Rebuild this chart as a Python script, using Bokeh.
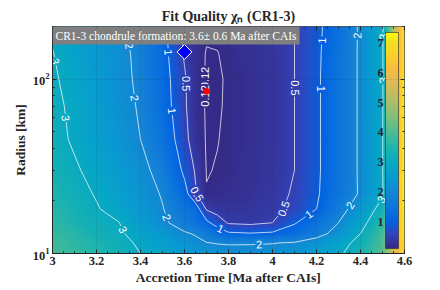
import numpy as np
import contourpy
from bokeh.plotting import figure
from bokeh.models import (ColumnDataSource, ColorBar, LinearColorMapper, Label, Whisker,
                          TeeHead, FixedTicker, Range1d, LogTickFormatter, LinearAxis, LogAxis)
from bokeh.core.properties import value
from bokeh.embed import file_html
from bokeh.resources import INLINE

# ---------------- data ----------------
accretion_time = [3.0, 3.1, 3.2, 3.3, 3.4, 3.5, 3.6, 3.65, 3.7, 3.75, 3.8, 3.9,
                  4.0, 4.1, 4.2, 4.3, 4.4, 4.5, 4.6]
radius_km = [10, 11.5, 13, 15, 18, 22, 30, 45, 70, 100, 140, 200]

chi_r010 = [3.95, 3.75, 3.50, 3.25, 3.00, 2.75, 2.50, 2.40, 2.30, 2.25, 2.22, 2.20, 2.22, 2.30, 2.55, 2.90, 3.35, 4.10, 6.90]
chi_r011 = [3.85, 3.65, 3.42, 3.20, 2.90, 2.60, 2.30, 2.15, 2.02, 1.97, 1.95, 1.96, 1.98, 2.05, 2.35, 2.75, 3.20, 4.00, 7.00]
chi_r013 = [3.75, 3.55, 3.30, 3.10, 2.75, 2.40, 2.07, 1.95, 1.65, 1.35, 1.08, 1.03, 1.08, 1.30, 1.70, 2.30, 3.00, 3.90, 7.10]
chi_r015 = [3.65, 3.42, 3.15, 3.02, 2.55, 2.12, 1.70, 1.50, 1.12, 0.75, 0.45, 0.40, 0.50, 0.95, 1.40, 2.00, 2.75, 3.60, 7.20]
chi_r018 = [3.55, 3.32, 3.05, 2.75, 2.40, 2.03, 1.50, 1.30, 0.45, 0.30, 0.28, 0.30, 0.40, 0.60, 1.00, 1.70, 2.40, 3.30, 7.30]
chi_r022 = [3.45, 3.22, 2.95, 2.65, 2.30, 1.95, 1.20, 0.55, 0.13, 0.17, 0.20, 0.25, 0.35, 0.55, 0.92, 1.50, 2.08, 2.90, 7.35]
chi_r030 = [3.30, 3.08, 2.80, 2.50, 2.20, 1.75, 0.88, 0.45, 0.11, 0.13, 0.16, 0.22, 0.32, 0.50, 0.90, 1.45, 2.10, 2.95, 7.35]
chi_r045 = [3.20, 2.92, 2.62, 2.32, 2.00, 1.45, 0.65, 0.24, 0.105, 0.115, 0.15, 0.20, 0.30, 0.50, 0.90, 1.45, 2.10, 2.95, 7.30]
chi_r070 = [3.15, 2.87, 2.55, 2.25, 1.93, 1.30, 0.56, 0.22, 0.10, 0.105, 0.14, 0.20, 0.30, 0.50, 0.90, 1.45, 2.10, 2.93, 7.30]
chi_r100 = [3.08, 2.80, 2.50, 2.20, 1.88, 1.25, 0.55, 0.22, 0.10, 0.10, 0.14, 0.20, 0.30, 0.50, 0.90, 1.45, 2.10, 2.92, 7.20]
chi_r140 = [3.02, 2.70, 2.45, 2.18, 1.85, 1.20, 0.45, 0.20, 0.11, 0.115, 0.16, 0.22, 0.30, 0.50, 0.88, 1.45, 2.10, 2.92, 7.10]
chi_r200 = [2.90, 2.60, 2.35, 2.12, 1.75, 1.15, 0.42, 0.25, 0.15, 0.16, 0.20, 0.25, 0.32, 0.50, 0.85, 1.40, 2.10, 2.90, 7.00]

contour_levels = [0.12, 0.5, 1, 2, 3]

# contour labels: (level, approximate time, approximate radius)
label_spots = [
    (3, 3.02, 127), (3, 3.07, 60), (3, 3.33, 13.9), (3, 4.5, 175), (3, 4.5, 98), (3, 4.49, 20.6),
    (2, 3.35, 155), (2, 3.38, 78), (2, 3.52, 16.1), (2, 3.94, 11.0), (2, 4.355, 18.8), (2, 4.39, 177),
    (1, 3.52, 142), (1, 3.56, 66), (1, 3.76, 13.6), (1, 4.17, 16.5), (1, 4.23, 166), (1, 4.23, 88),
    (0.5, 3.61, 94), (0.5, 3.66, 22), (0.5, 4.07, 17.7), (0.5, 4.10, 89),
    (0.12, 3.72, 102), (0.12, 3.70, 80),
]

formation_time = 3.6
formation_err = 0.6
formation_radius = 143
best_time = 3.70
best_radius = 85
banner_text = "CR1-3 chondrule formation: 3.6\u00b1 0.6 Ma after CAIs"
title_text = "Fit Quality \u03c7\u2099 (CR1-3)"

xticks = [3.0, 3.2, 3.4, 3.6, 3.8, 4.0, 4.2, 4.4, 4.6]
xtick_labels = ["3", "3.2", "3.4", "3.6", "3.8", "4", "4.2", "4.4", "4.6"]
yticks = [10, 100]
cbar_ticks = [1, 2, 3, 4, 5, 6, 7]

# ---------------- colours ----------------
PARULA = [
    (0.2081, 0.1663, 0.5292), (0.1959, 0.2645, 0.7279), (0.0117, 0.3875, 0.8820),
    (0.0498, 0.4586, 0.8641), (0.0793, 0.5200, 0.8312), (0.0343, 0.5966, 0.8199),
    (0.0228, 0.6535, 0.7768), (0.0843, 0.6928, 0.7062), (0.2178, 0.7250, 0.6193),
    (0.3953, 0.7459, 0.5244), (0.5709, 0.7485, 0.4494), (0.7184, 0.7411, 0.3905),
    (0.8507, 0.7299, 0.3360), (0.9739, 0.7314, 0.2666), (0.9880, 0.8066, 0.1794),
    (0.9626, 0.8705, 0.1309), (0.9763, 0.9831, 0.0538)]
PPOS = [i / 63 for i in range(0, 64, 4)] + [1.0]


def parula(f):
    f = min(max(f, 0.0), 1.0)
    arr = np.array(PARULA)
    r, g, b = (np.interp(f, PPOS, arr[:, k]) for k in range(3))
    return "#%02x%02x%02x" % (int(round(r * 255)), int(round(g * 255)), int(round(b * 255)))


Z = np.array([chi_r010, chi_r011, chi_r013, chi_r015, chi_r018, chi_r022,
              chi_r030, chi_r045, chi_r070, chi_r100, chi_r140, chi_r200])
T = np.array(accretion_time)
LR = np.log10(np.array(radius_km, dtype=float))
X2, LY2 = np.meshgrid(T, LR)
cmin, cmax = float(Z.min()), float(Z.max())

# frame geometry (page pixels)
FL, FT, FW, FH = 52, 26, 352, 227
W, H = 440, 290
X0, X1 = 3.0, 4.6
R0, R1 = 10.0, 200.0
PX_T = FW / (X1 - X0)
PX_DEC = FH / (np.log10(R1) - np.log10(R0))

FONT = "Liberation Serif"
DARK = "#262626"

p = figure(frame_width=FW, frame_height=FH, x_range=Range1d(X0, X1), y_range=Range1d(R0, R1),
           y_axis_type="log", output_backend="svg", toolbar_location=None,
           min_border_left=FL, min_border_right=W - FL - FW, min_border_top=FT,
           min_border_bottom=H - FT - FH,
           background_fill_color="white", border_fill_color="white")
p.outline_line_color = DARK
p.outline_line_width = 0.8
bottom_ax = p.below[0]
left_ax = p.left[0]

# smooth field (bilinear between the grid values, like interpolated shading)
NX, NY = FW, FH
tt = X0 + (np.arange(NX) + 0.5) / NX * (X1 - X0)
ll = np.log10(R0) + (np.arange(NY) + 0.5) / NY * (np.log10(R1) - np.log10(R0))
fi = np.interp(tt, T, np.arange(len(T)))
fj = np.interp(ll, LR, np.arange(len(LR)))
i0 = np.clip(np.floor(fi).astype(int), 0, len(T) - 2)
j0 = np.clip(np.floor(fj).astype(int), 0, len(LR) - 2)
wi = (fi - i0)[None, :]
wj = (fj - j0)[:, None]
J, I = j0[:, None], i0[None, :]
img = (Z[J, I] * (1 - wi) * (1 - wj) + Z[J, I + 1] * wi * (1 - wj)
       + Z[J + 1, I] * (1 - wi) * wj + Z[J + 1, I + 1] * wi * wj)

mapper = LinearColorMapper(palette=[parula(f) for f in np.linspace(0, 1, 256)], low=cmin, high=cmax)
p.image(image=[img], x=X0, y=R0, dw=X1 - X0, dh=R1 - R0, color_mapper=mapper)

# contour lines (computed in log-radius space)
gen = contourpy.contour_generator(X2, LY2, Z)
cxs, cys = [], []
for lev in contour_levels:
    for ln in gen.lines(lev):
        cxs.append(list(ln[:, 0]))
        cys.append(list(10 ** ln[:, 1]))
p.multi_line(xs=cxs, ys=cys, line_color="white", line_width=0.8, line_alpha=0.9)

# contour labels, snapped onto the contour lines
lx, ly, lt, la, lbg = [], [], [], [], []
for lev, t0, r0 in label_spots:
    px0 = (t0 - X0) * PX_T
    py0 = np.log10(r0) * PX_DEC
    best = None
    for ln in gen.lines(lev):
        sx = (ln[:, 0] - X0) * PX_T
        sy = ln[:, 1] * PX_DEC
        for i in range(len(ln) - 1):
            ax, ay, bx, by = sx[i], sy[i], sx[i + 1], sy[i + 1]
            dx, dy = bx - ax, by - ay
            L2 = dx * dx + dy * dy
            u = 0.0 if L2 == 0 else min(max(((px0 - ax) * dx + (py0 - ay) * dy) / L2, 0), 1)
            qx, qy = ax + u * dx, ay + u * dy
            d = (qx - px0) ** 2 + (qy - py0) ** 2
            if best is None or d < best[0]:
                best = (d, qx, qy, np.arctan2(dy, dx))
    if best is None:
        continue
    _, qx, qy, ang = best
    if ang > np.pi / 2:
        ang -= np.pi
    if ang < -np.pi / 2:
        ang += np.pi
    lx.append(X0 + qx / PX_T)
    ly.append(10 ** (qy / PX_DEC))
    lt.append("%g" % lev)
    la.append(ang)
    lbg.append(parula((lev - cmin) / (cmax - cmin)))
lsrc = ColumnDataSource(dict(x=lx, y=ly, text=lt, angle=la, bg=lbg))
p.text(x="x", y="y", text="text", angle="angle", source=lsrc, text_color="white",
       text_font=value("Liberation Sans"), text_font_size="11px", text_align="center",
       text_baseline="middle", background_fill_color="bg", padding=1)

# grid on top
p.xgrid.ticker = FixedTicker(ticks=xticks)
p.ygrid.ticker = FixedTicker(ticks=yticks)
for g in (p.xgrid, p.ygrid):
    g.grid_line_color = DARK
    g.grid_line_alpha = 0.15
    g.grid_line_width = 0.6
    g.level = "overlay"

# error bar and markers
esrc = ColumnDataSource(dict(r=[formation_radius], lo=[formation_time - formation_err],
                             hi=[formation_time + formation_err]))
p.add_layout(Whisker(source=esrc, base="r", lower="lo", upper="hi", dimension="width",
                     line_color="white", line_width=1.5,
                     lower_head=TeeHead(size=10, line_color="white", line_width=1.5),
                     upper_head=TeeHead(size=10, line_color="white", line_width=1.5)))
p.scatter(x=[formation_time], y=[formation_radius], marker="square", angle=np.pi / 4, size=10.5,
          fill_color="#0000ff", line_color="white", line_width=1)
p.scatter(x=[best_time], y=[best_radius], marker="circle", size=6, fill_color="#ff0000",
          line_color="#ff0000")

# banner
p.add_layout(Label(x=X0, y=R1, text=banner_text, text_align="left", text_baseline="top",
                   text_color="white", text_font=FONT, text_font_size="11.5px",
                   background_fill_color="#7f7f7f", background_fill_alpha=1.0, padding=3))

# axes
minor_x = [round(3.0 + 0.05 * k, 2) for k in range(33)]
minor_y = [20, 30, 40, 50, 60, 70, 80, 90, 200]
bottom_ax.ticker = FixedTicker(ticks=xticks, minor_ticks=minor_x)
bottom_ax.major_label_overrides = {t: s for t, s in zip(xticks, xtick_labels)}
left_ax.ticker = FixedTicker(ticks=yticks, minor_ticks=minor_y)
left_ax.formatter = LogTickFormatter()
bottom_ax.axis_label = "Accretion Time [Ma after CAIs]"
left_ax.axis_label = "Radius [km]"

# tick marks on the top and right edges (box on), labels hidden
top_ax = LinearAxis(ticker=FixedTicker(ticks=xticks, minor_ticks=minor_x))
right_ax = LogAxis(ticker=FixedTicker(ticks=yticks, minor_ticks=minor_y))
for ax in (top_ax, right_ax):
    ax.major_label_text_alpha = 0
    ax.major_label_text_font_size = "1px"
    ax.major_label_standoff = 0
    ax.axis_line_color = None
p.add_layout(top_ax, "above")
p.add_layout(right_ax, "right")

for ax in (bottom_ax, left_ax, top_ax, right_ax):
    ax.major_tick_line_color = DARK
    ax.minor_tick_line_color = DARK
    ax.major_tick_in = 4
    ax.major_tick_out = 0
    ax.minor_tick_in = 2
    ax.minor_tick_out = 0

for ax in (bottom_ax, left_ax):
    ax.axis_label_text_font = FONT
    ax.axis_label_text_font_style = "bold"
    ax.axis_label_text_font_size = "13.5px"
    ax.axis_label_text_color = DARK
    ax.major_label_text_font = FONT
    ax.major_label_text_font_style = "bold"
    ax.major_label_text_color = DARK
    ax.major_label_text_font_size = "12.5px"
    ax.axis_line_color = DARK
    ax.axis_label_standoff = 2
    ax.major_label_standoff = 3

# title
p.title.text = title_text
p.title.align = "center"
p.title.text_font = FONT
p.title.text_font_style = "bold"
p.title.text_font_size = "14px"
p.title.text_color = DARK
p.title.standoff = 5

# colour bar inside the frame
CB_X, CB_Y, CB_W, CB_H = 333, 5, 13, 216
cb = ColorBar(color_mapper=mapper, location=(CB_X, CB_Y), width=CB_W, height=CB_H, padding=0,
              margin=0, major_label_text_alpha=0, major_tick_line_color=None,
              bar_line_color=DARK, bar_line_width=0.6, background_fill_alpha=0,
              border_line_color=None)
p.add_layout(cb, "center")
for v in cbar_ticks:
    p.add_layout(Label(x=CB_X - 2, y=CB_Y + (v - cmin) / (cmax - cmin) * CB_H,
                       x_units="screen", y_units="screen", text=str(v), text_align="right",
                       text_baseline="middle", text_font=FONT, text_font_style="bold",
                       text_font_size="12px", text_color=DARK))

open("out.html", "w").write(file_html(p, INLINE))
